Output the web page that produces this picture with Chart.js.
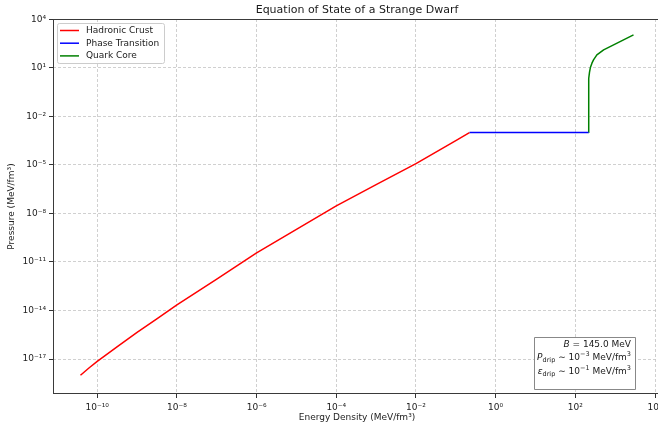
<!DOCTYPE html>
<html>
<head>
<meta charset="utf-8">
<script src="https://cdn.jsdelivr.net/npm/chart.js@4.4.1/dist/chart.umd.min.js"></script>
<style>
  html, body { margin: 0; padding: 0; background: #fff; overflow: hidden; }
  #wrap { position: absolute; left: 0; top: 0; width: 668px; height: 429px; }
</style>
</head>
<body>
<div id="wrap"><canvas id="c" width="668" height="429"></canvas></div>
<script>
// ---- Data ----
const crustEnergy   = [3.8e-11, 6.3e-11, 1e-10, 3.2e-10, 1e-9, 3.2e-9, 1e-8, 1e-7, 1e-6, 1e-5, 1e-4, 1e-3, 1e-2, 1e-1, 0.22];
const crustPressure = [1.0e-18, 2.9e-18, 7.1e-18, 5.9e-17, 4.4e-16, 3.2e-15, 2.2e-14, 8.7e-13, 3.7e-11, 1.05e-9, 2.95e-8, 6.0e-7, 1.2e-5, 3.2e-4, 1.0e-3];

const transitionEnergy   = [0.22, 215];
const transitionPressure = [1.0e-3, 1.0e-3];

const coreEnergy   = [215, 215.5, 218, 227, 240, 261, 286, 347, 513, 912, 1622, 2884];
const corePressure = [1.0e-3, 0.7, 2.2, 5.5, 11, 19.5, 31, 63, 129, 263, 537, 1096];

const seriesLabels = ['Hadronic Crust', 'Phase Transition', 'Quark Core'];
const xTickValues = [1e-10, 1e-8, 1e-6, 1e-4, 1e-2, 1e0, 1e2, 1e4];
const yTickValues = [1e-17, 1e-14, 1e-11, 1e-8, 1e-5, 1e-2, 1e1, 1e4];

const annotationLines = [
  [{t: 'B', it: true}, {t: ' = 145.0 MeV'}],
  [{t: 'P', it: true}, {t: 'drip', sub: true}, {t: ' \u223C 10'}, {t: '\u22123', sup: true}, {t: ' MeV/fm'}, {t: '3', sup: true}],
  [{t: '\u03B5', it: true}, {t: 'drip', sub: true}, {t: ' \u223C 10'}, {t: '\u22121', sup: true}, {t: ' MeV/fm'}, {t: '3', sup: true}]
];

const FONT = "'DejaVu Sans', 'Liberation Sans', sans-serif";
const SUP = {'-': '\u207B', '0': '\u2070', '1': '\u00B9', '2': '\u00B2', '3': '\u00B3', '4': '\u2074',
             '5': '\u2075', '6': '\u2076', '7': '\u2077', '8': '\u2078', '9': '\u2079'};
function powLabel(v) {
  const e = Math.round(Math.log10(v));
  return '10' + String(e).split('').map(ch => SUP[ch]).join('');
}
function zip(xs, ys) { return xs.map((x, i) => ({x: x, y: ys[i]})); }

const colors = ['#ff0000', '#0000ff', '#008000'];

const decorPlugin = {
  id: 'decor',
  afterDraw(chart) {
    const ctx = chart.ctx;
    const a = chart.chartArea;
    ctx.save();
    // frame
    ctx.strokeStyle = '#3a3a3a';
    ctx.lineWidth = 1;
    ctx.setLineDash([]);
    ctx.strokeRect(a.left + 0.5, a.top + 0.5, a.right - a.left - 1, a.bottom - a.top - 1);

    // title
    ctx.fillStyle = '#1a1a1a';
    ctx.font = '11px ' + FONT;
    ctx.textAlign = 'center';
    ctx.textBaseline = 'middle';
    ctx.fillText('Equation of State of a Strange Dwarf', (a.left + a.right) / 2, 10);

    // legend
    const lx = a.left + 4, ly = a.top + 4, lw = 107, lh = 40;
    ctx.fillStyle = 'rgba(255,255,255,0.85)';
    ctx.strokeStyle = '#cccccc';
    ctx.lineWidth = 1;
    ctx.beginPath();
    ctx.roundRect(lx + 0.5, ly + 0.5, lw, lh, 2);
    ctx.fill();
    ctx.stroke();
    ctx.font = '9px ' + FONT;
    ctx.textAlign = 'left';
    ctx.textBaseline = 'middle';
    chart.data.datasets.forEach((ds, i) => {
      const yy = ly + 7.5 + i * 12.7;
      ctx.strokeStyle = ds.borderColor;
      ctx.lineWidth = 1.5;
      ctx.beginPath();
      ctx.moveTo(lx + 3, yy);
      ctx.lineTo(lx + 22, yy);
      ctx.stroke();
      ctx.fillStyle = '#1a1a1a';
      ctx.fillText(ds.label, lx + 29, yy);
    });

    // annotation box
    const bx = 534, by = 337, bw = 101, bh = 52;
    ctx.fillStyle = '#ffffff';
    ctx.strokeStyle = '#888888';
    ctx.lineWidth = 1;
    ctx.beginPath();
    ctx.rect(bx + 0.5, by + 0.5, bw, bh);
    ctx.fill();
    ctx.stroke();
    const lineY = [344, 357, 371];
    const rightX = 631;
    annotationLines.forEach((segs, li) => {
      const fontFor = s => (s.it ? 'italic ' : '') + ((s.sub || s.sup) ? '6.5px ' : '9px ') + FONT;
      let total = 0;
      segs.forEach(s => { ctx.font = fontFor(s); total += ctx.measureText(s.t).width; });
      let x = rightX - total;
      ctx.textAlign = 'left';
      ctx.textBaseline = 'alphabetic';
      ctx.fillStyle = '#1a1a1a';
      const base = lineY[li] + 3;
      segs.forEach(s => {
        ctx.font = fontFor(s);
        let y = base;
        if (s.sub) y += 2;
        if (s.sup) y -= 4;
        ctx.fillText(s.t, x, y);
        x += ctx.measureText(s.t).width;
      });
    });
    ctx.restore();
  }
};

const gridCommon = {
  color: '#c4c4c4',
  lineWidth: 0.8,
  tickColor: '#333333',
  tickLength: 4,
  tickWidth: 1,
  tickBorderDash: [],
  drawTicks: true
};

new Chart(document.getElementById('c'), {
  type: 'line',
  data: {
    datasets: [
      {label: seriesLabels[0], data: zip(crustEnergy, crustPressure), borderColor: colors[0], backgroundColor: colors[0]},
      {label: seriesLabels[1], data: zip(transitionEnergy, transitionPressure), borderColor: colors[1], backgroundColor: colors[1]},
      {label: seriesLabels[2], data: zip(coreEnergy, corePressure), borderColor: colors[2], backgroundColor: colors[2]}
    ]
  },
  options: {
    responsive: false,
    animation: false,
    devicePixelRatio: 1,
    layout: {padding: {top: 19, right: 7, bottom: 0, left: 0}},
    elements: {
      point: {radius: 0, hoverRadius: 0},
      line: {borderWidth: 1.5, tension: 0, fill: false, borderJoinStyle: 'round'}
    },
    plugins: {
      legend: {display: false},
      title: {display: false},
      tooltip: {enabled: false}
    },
    scales: {
      x: {
        type: 'logarithmic',
        min: Math.pow(10, -11.11),
        max: Math.pow(10, 4.15),
        afterBuildTicks: s => { s.ticks = xTickValues.map(v => ({value: v})); },
        afterFit: s => { s.height = 35; },
        grid: gridCommon,
        border: {display: false, dash: [3, 2]},
        ticks: {
          autoSkip: false, maxRotation: 0, padding: 4,
          color: '#222222', font: {family: FONT, size: 9},
          callback: v => powLabel(v)
        },
        title: {
          display: true, text: 'Energy Density (MeV/fm\u00B3)',
          color: '#222222', font: {family: FONT, size: 9},
          padding: {top: 5.5, bottom: 5.5}
        }
      },
      y: {
        type: 'logarithmic',
        min: Math.pow(10, -19.16),
        max: Math.pow(10, 4.02),
        afterBuildTicks: s => { s.ticks = yTickValues.map(v => ({value: v})); },
        afterFit: s => { s.width = 53; },
        grid: gridCommon,
        border: {display: false, dash: [3, 2]},
        ticks: {
          autoSkip: false, padding: 3,
          color: '#222222', font: {family: FONT, size: 9},
          callback: v => powLabel(v)
        },
        title: {
          display: true, text: 'Pressure (MeV/fm\u00B3)',
          color: '#222222', font: {family: FONT, size: 9},
          padding: {top: 6.5, bottom: 6.5}
        }
      }
    }
  },
  plugins: [decorPlugin]
});
</script>
</body>
</html>
